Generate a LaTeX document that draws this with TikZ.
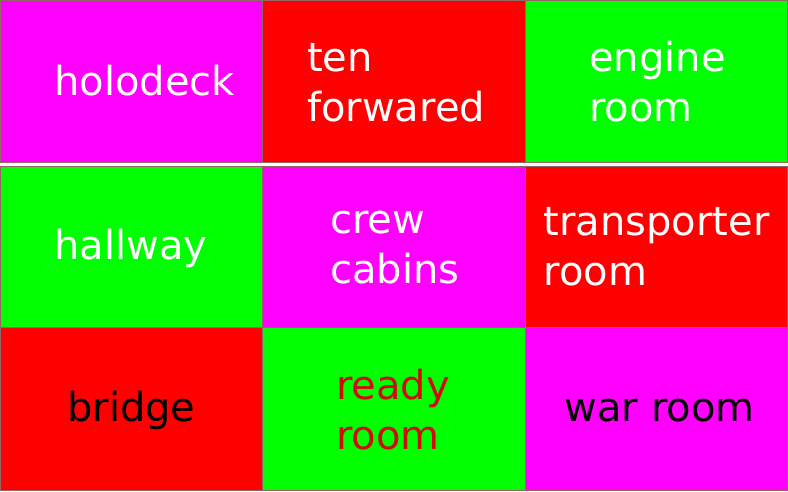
\documentclass[tikz,border=0pt]{standalone}
\usepackage{fontspec}
\setmainfont{DejaVu Sans}
\definecolor{cmag}{RGB}{255,0,255}
\definecolor{cred}{RGB}{255,0,0}
\definecolor{cgreen}{RGB}{0,255,0}
\definecolor{cedge}{RGB}{150,100,100}
\definecolor{readyred}{RGB}{210,10,10}
\begin{document}
\begin{tikzpicture}[x=1pt,y=-1pt,
  cell/.style={draw=cedge,line width=0.8pt},
  lbl/.style={anchor=base west,inner sep=0pt,font=\fontsize{40}{50}\selectfont}]
\useasboundingbox[fill=white] (0,0) rectangle (788,491);
% row 1
\path[cell,fill=cmag]   (0.5,0.5) rectangle (262.5,162.5);
\path[cell,fill=cred]   (262.5,0.5) rectangle (525,162.5);
\path[cell,fill=cgreen] (525,0.5) rectangle (787.5,162.5);
% row 2
\path[cell,fill=cgreen] (0.5,166) rectangle (262.5,327.5);
\path[cell,fill=cmag]   (262.5,166) rectangle (525,327.5);
\path[cell,fill=cred]   (525,166) rectangle (787.5,327.5);
% row 3
\path[cell,fill=cred]   (0.5,327.5) rectangle (262.5,490.5);
\path[cell,fill=cgreen] (262.5,327.5) rectangle (525,490.5);
\path[cell,fill=cmag]   (525,327.5) rectangle (787.5,490.5);
% labels
\node[lbl,text=white] (holodeck) at (54,95) {holodeck};
\node[lbl,text=white] (ten) at (307,71) {\begin{tabular}[t]{@{}l@{}}ten\\forwared\end{tabular}};
\node[lbl,text=white] (engine) at (589,71) {\begin{tabular}[t]{@{}l@{}}engine\\room\end{tabular}};
\node[lbl,text=white] (hallway) at (54,259) {hallway};
\node[lbl,text=white] (crew) at (330,233) {\begin{tabular}[t]{@{}l@{}}crew\\cabins\end{tabular}};
\node[lbl,text=white] (transporter) at (543.5,235) {\begin{tabular}[t]{@{}l@{}}transporter\\room\end{tabular}};
\node[lbl,text=black] (bridge) at (67,421) {bridge};
\node[lbl,text=readyred] (ready) at (336,399) {\begin{tabular}[t]{@{}l@{}}ready\\room\end{tabular}};
\node[lbl,text=black] (war) at (564.5,421) {war room};
\end{tikzpicture}
\end{document}
